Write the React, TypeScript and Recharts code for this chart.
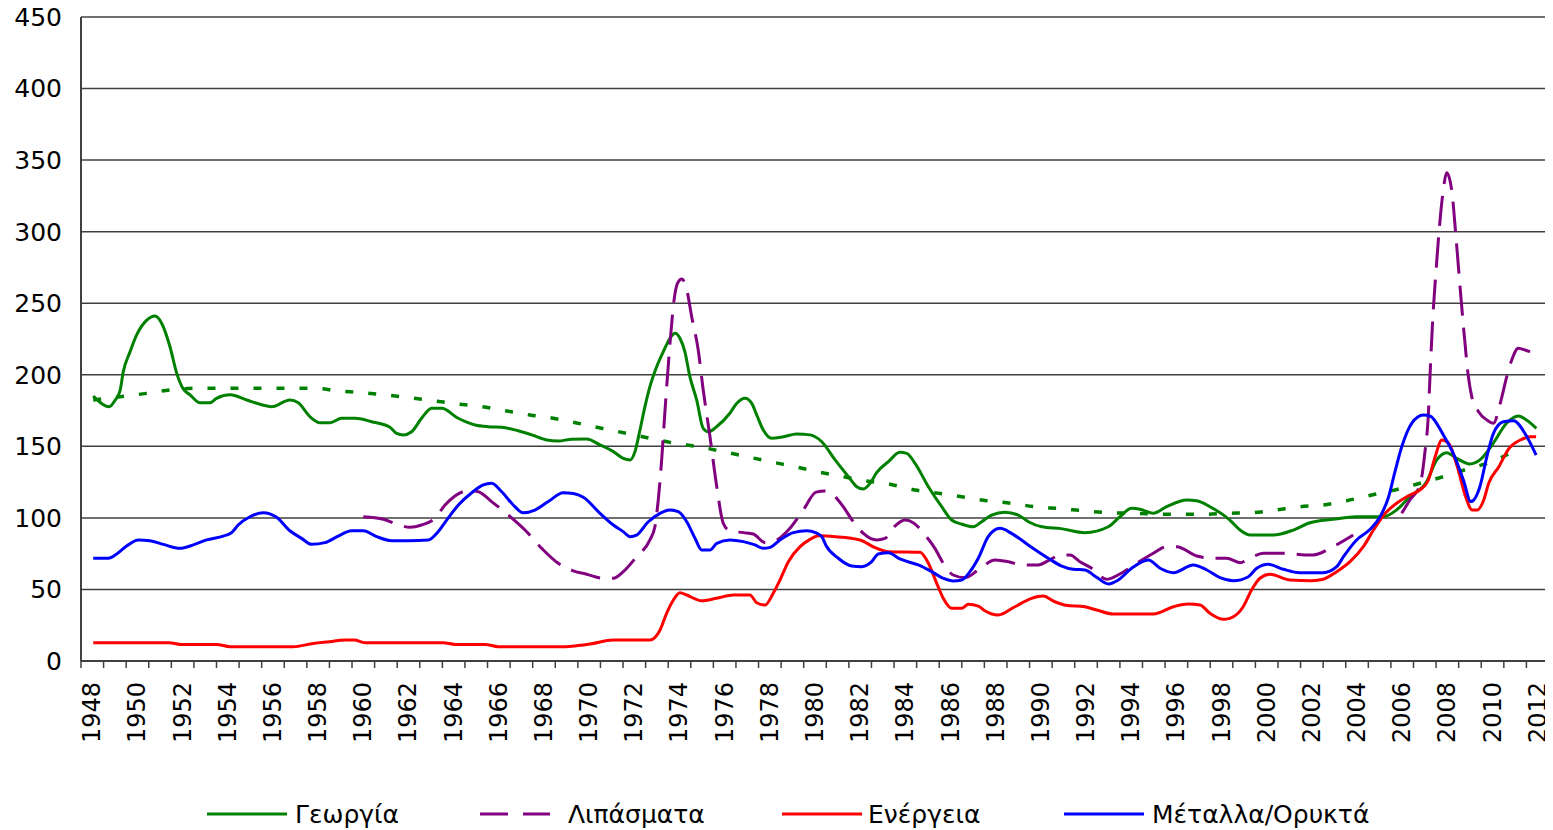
import React from 'react';
import { LineChart, Line, XAxis, YAxis, CartesianGrid, ReferenceLine } from 'recharts';

// [year, index value] pairs (null = gap in the series)
const agricultureSeries: [number, number][] = [
  [1948.54,185.2],[1949.25,177.7],[1949.5,182],[1949.73,189],[1949.87,202],[1950.17,216],[1950.47,228],[1950.9,238],[1951.28,241],[1951.57,236],[1951.94,219.6],[1952.24,201],[1952.53,190],[1952.83,186],[1953.27,180.5],[1953.71,180.5],[1954.0,183.5],[1954.6,186],[1955.34,182.4],[1956.0,179],[1956.44,177.7],[1957.25,182.4],[1957.62,180.5],[1958.14,170.7],[1958.58,166.5],[1959.03,166.5],[1959.54,169.6],[1960.13,169.6],[1960.87,167.2],[1961.68,163.3],[1961.98,159],[1962.27,158],[1962.64,160.2],[1963.08,169.6],[1963.53,176.6],[1963.97,176.6],[1964.7,169.6],[1965.45,164.9],[1966.03,163.7],[1966.63,163.3],[1967.36,160.9],[1967.96,158],[1968.62,154.4],[1969.13,153.7],[1969.73,155],[1970.39,155.1],[1970.98,151],[1971.57,146.3],[1972.01,141.6],[1972.31,140.5],[1972.53,146.3],[1972.75,161.4],[1972.97,177.7],[1973.19,191.7],[1973.49,205.6],[1973.78,216],[1974.08,225.5],[1974.3,229],[1974.52,225.5],[1974.74,216],[1974.96,198.7],[1975.26,182.4],[1975.55,162.6],[1975.78,160.2],[1976.14,163.7],[1976.73,173.1],[1977.03,180],[1977.4,183.6],[1977.7,180],[1977.92,171.9],[1978.21,161.4],[1978.58,155.6],[1979.1,156.7],[1979.69,158.6],[1980.28,158],[1980.8,153.2],[1981.39,140.5],[1981.98,128.8],[1982.35,121.8],[1982.64,120.2],[1982.94,124.2],[1983.23,131.6],[1983.75,139.3],[1984.26,145.8],[1984.56,145.1],[1984.93,138.1],[1985.52,121.8],[1986.11,107.8],[1986.55,98.5],[1986.99,95.7],[1987.51,93.8],[1987.88,97.3],[1988.32,102],[1988.91,103.9],[1989.5,102],[1989.95,97.3],[1990.54,93.8],[1991.4,92.5],[1992.45,89.7],[1993.49,93.8],[1994.0,100.8],[1994.52,106.7],[1994.89,106],[1995.48,103.2],[1996.07,107.8],[1996.96,112.5],[1997.4,112],[1997.99,107.8],[1998.87,98.5],[1999.32,91.5],[1999.76,88],[2000.79,88],[2001.68,91.5],[2002.42,96.6],[2003.44,99],[2004.48,100.8],[2005.66,100.8],[2006.25,105.5],[2006.84,114.8],[2007.58,125.3],[2008.03,140.5],[2008.47,145.6],[2008.91,141.6],[2009.5,137.7],[2009.94,140.5],[2010.53,152.1],[2011.12,166.1],[2011.64,171.2],[2012.0,168.4],[2012.44,162.6]
];

const agricultureTrend: [number, number][] = [
  [1948.54,182.4],[1949.73,184.7],[1950.9,187],[1951.94,189.4],[1953.12,190.6],[1958.3,190.6],[1959.3,188.9],[1960.4,187.5],[1961.46,185.9],[1962.57,184],[1963.6,181.9],[1964.64,179.6],[1965.74,177.7],[1966.77,174.9],[1967.88,171.9],[1968.91,169.6],[1969.9,166.5],[1971.05,162.6],[1972.16,159.1],[1973.19,155.6],[1974.3,152.1],[1975.33,149.7],[1976.44,146.3],[1977.47,142.8],[1978.51,139.3],[1979.61,135.8],[1980.6,132.3],[1981.75,128.8],[1982.79,125.8],[1983.82,123.5],[1984.93,119.5],[1985.96,117.2],[1986.99,114.8],[1988.1,112],[1989.2,110.2],[1990.24,107.8],[1991.3,106.5],[1992.38,105],[1993.49,103.6],[1994.52,103.2],[1995.55,102.7],[1996.66,102.5],[1997.69,102.5],[1998.73,103.2],[1999.83,103.6],[2000.86,105.5],[2001.97,107.8],[2003.0,109],[2004.04,112],[2005.15,116],[2006.18,119.5],[2007.29,124.2],[2008.32,128.8],[2009.36,134],[2010.46,139.3],[2011.57,147.4]
];

const fertilizerSeries: [number, number | null][] = [
  [1960.5,100.8],[1961.39,99],[1961.98,95.7],[1962.57,93.4],[1963.08,95],[1963.67,99.7],[1964.12,109],[1964.56,115.3],[1965.15,119],[1965.59,118.3],[1966.18,111.4],[1966.92,102],[1967.66,91.5],[1968.4,78.7],[1969.13,68.3],[1969.8,63],[1970.39,60.6],[1971.13,57.8],[1971.57,57.8],[1972.01,62.4],[1972.6,72.9],[1973.19,84.6],[1973.41,93.8],[1973.56,112.5],[1973.71,140.5],[1973.86,175.4],[1974.08,222],[1974.26,252.3],[1974.41,263.9],[1974.6,267],[1974.79,261.6],[1975.04,240.6],[1975.33,217.3],[1975.55,189.4],[1975.85,156.7],[1976.15,121.8],[1976.44,96.2],[1976.73,91],[1977.33,89.7],[1977.77,88.7],[1978.29,82.7],[1978.65,83.4],[1979.39,92.7],[1979.98,105.5],[1980.55,118],[1980.94,118.8],[1981.39,114.8],[1981.75,107.8],[1982.2,97.3],[1982.64,89.2],[1983.23,84.6],[1983.6,85.7],[1984.04,94.3],[1984.49,98.5],[1984.85,96.6],[1985.37,88],[1985.81,78.7],[1986.18,68.3],[1986.62,60.1],[1987.14,58.2],[1987.73,63.6],[1988.47,70.6],[1989.06,69.4],[1989.65,67.1],[1990.39,67.1],[1990.83,70.1],[1991.4,74.1],[1991.79,74.1],[1992.23,69.4],[1992.82,64.1],[1993.41,57.1],[1994.0,60.8],[1994.74,68.3],[1995.48,75.3],[1996.07,79.9],[1996.51,79.9],[1997.4,73.4],[1998.14,71.8],[1998.73,71.8],[1999.32,68.7],[1999.76,71.8],[2000.35,75.3],[2001.39,75.3],[2002.2,74.1],[2002.56,74.1],[2003.44,79.9],[2004.33,88],[2005.4,null],[2006.48,103.2],[2006.84,112.5],[2007.29,123],[2007.5,145.1],[2007.66,173.1],[2007.73,198.7],[2007.85,238.3],[2008.0,273.2],[2008.15,303.5],[2008.3,326.7],[2008.47,341.2],[2008.69,329.1],[2008.88,296.5],[2009.06,261.6],[2009.24,229],[2009.43,198.7],[2009.58,184.7],[2009.88,174.2],[2010.25,168.4],[2010.54,166.1],[2010.84,180],[2011.13,198.7],[2011.35,210.3],[2011.64,218.5],[2012.02,216.8],[2012.46,215]
];

const energySeries: [number, number][] = [
  [1948.54,12.8],[1951.9,12.8],[1952.4,11.6],[1954.0,11.6],[1954.6,10],[1957.4,10],[1958.29,12.3],[1959.0,13.5],[1959.69,14.7],[1960.1,14.7],[1960.57,12.8],[1964.04,12.8],[1964.56,11.6],[1965.89,11.6],[1966.48,10],[1969.43,10],[1970.0,10.8],[1970.54,11.9],[1971.57,14.7],[1973.19,14.7],[1973.64,21.7],[1973.93,33.3],[1974.23,42.6],[1974.52,47.7],[1974.82,46.1],[1975.48,42.1],[1976.14,43.8],[1976.88,46.1],[1977.62,46.1],[1977.92,40.7],[1978.29,39.1],[1978.65,47.3],[1978.95,56.6],[1979.32,69.4],[1979.84,79.9],[1980.28,85],[1980.65,87.5],[1981.39,86.9],[1982.49,84.6],[1983.16,79.2],[1983.75,76.4],[1985.15,76],[1985.52,68.3],[1985.89,54.3],[1986.18,43.8],[1986.55,36.8],[1986.99,36.8],[1987.29,39.6],[1987.73,38.4],[1988.02,35.1],[1988.61,32.1],[1989.35,37.9],[1990.09,43.8],[1990.6,45.4],[1991.12,41.4],[1991.6,39],[1992.45,37.9],[1992.97,35.6],[1993.71,32.8],[1995.48,32.8],[1996.37,37.9],[1997.03,39.8],[1997.55,39.1],[1997.99,33.3],[1998.58,29.1],[1998.87,29.8],[1999.46,37.9],[1999.83,49.6],[2000.2,57.8],[2000.64,60.6],[2001.53,56.6],[2002.5,56.1],[2003.0,57.1],[2003.6,62.4],[2004.19,69.4],[2004.78,79.9],[2005.23,91.5],[2005.75,103.2],[2006.25,110.2],[2006.84,116],[2007.29,119.5],[2007.66,126.5],[2007.96,142.8],[2008.26,154.4],[2008.56,152.1],[2008.94,135.8],[2009.31,114.8],[2009.6,105.5],[2009.82,105.5],[2010.11,112.5],[2010.33,124.2],[2010.78,135.8],[2011.23,148.6],[2011.73,154.4],[2012.17,156.7],[2012.43,156.7]
];

const metalsSeries: [number, number][] = [
  [1948.54,71.8],[1949.21,71.8],[1949.58,74.8],[1950.02,80.4],[1950.54,84.6],[1951.05,84.1],[1951.64,81.5],[1952.38,78.7],[1952.97,81.1],[1953.56,84.6],[1954.3,87.3],[1954.67,89.7],[1954.96,95],[1955.48,100.8],[1956.07,103.6],[1956.66,100.4],[1957.25,91],[1957.77,85.7],[1958.21,81.5],[1958.8,82.7],[1959.39,87.3],[1959.98,91],[1960.5,91],[1961.09,86.9],[1961.76,84.1],[1962.49,84.1],[1963.38,84.6],[1963.75,89.2],[1964.19,98.5],[1964.71,109],[1965.3,117.6],[1965.81,123],[1966.18,124.2],[1966.63,118.3],[1967.14,109],[1967.58,103.6],[1968.1,105.5],[1968.69,111.4],[1969.35,117.6],[1969.8,117],[1970.24,114.4],[1970.98,103.2],[1971.57,95],[1972.01,90.4],[1972.31,86.9],[1972.6,88],[1973.12,97.3],[1973.64,103.2],[1974.08,105.5],[1974.45,104.3],[1974.82,97.3],[1975.19,85.7],[1975.48,77.6],[1975.85,77.6],[1976.15,82.2],[1976.73,84.6],[1977.33,83.4],[1977.84,81.1],[1978.21,78.7],[1978.51,79.4],[1978.95,84.6],[1979.54,89.7],[1980.13,91],[1980.55,89.5],[1980.8,86.9],[1981.0,80.4],[1981.53,71.8],[1982.12,66.4],[1982.57,65.9],[1983.01,69.4],[1983.3,74.8],[1983.75,75.7],[1984.26,71.3],[1985.07,67.1],[1985.59,63.1],[1986.18,57.8],[1986.62,55.9],[1986.99,56.6],[1987.36,62.4],[1987.73,71.8],[1988.17,86.9],[1988.69,92.7],[1989.2,89.2],[1989.94,81.1],[1990.83,71.8],[1991.4,66.5],[1991.94,64.1],[1992.45,63.6],[1992.97,58.5],[1993.49,53.8],[1993.93,56.6],[1994.52,64.8],[1995.26,70.6],[1995.78,64.8],[1996.37,61.7],[1997.25,67.1],[1997.85,63.6],[1998.43,58.2],[1999.02,56.1],[1999.69,58.9],[2000.06,64.8],[2000.57,67.6],[2001.24,64.1],[2001.97,61.7],[2003.0,61.7],[2003.6,65.9],[2003.9,72.9],[2004.48,84.6],[2005.08,92],[2005.52,100.8],[2005.9,114.8],[2006.18,132.3],[2006.48,149.7],[2006.92,166.1],[2007.44,171.9],[2007.73,171.2],[2008.32,158],[2008.76,145.1],[2009.21,126.5],[2009.54,111.4],[2009.94,121.8],[2010.25,142.8],[2010.54,159.1],[2010.98,167.2],[2011.43,167.9],[2012.02,156.7],[2012.43,143.9]
];

const yTicks = [0, 50, 100, 150, 200, 250, 300, 350, 400, 450];
const firstYear = 1948;
const lastYear = 2012;
const legendLabels = ['Γεωργία', 'Λιπάσματα', 'Ενέργεια', 'Μέταλλα/Ορυκτά'];

const toRows = (s: [number, number | null][]) => s.map(([t, v]) => ({ t, v }));

const xTicks: number[] = [];
for (let i = 0; i <= (lastYear + 1 - firstYear) * 2; i++) xTicks.push(firstYear + i * 0.5);

const AXIS = '#404040';
const FONT = 'DejaVu Sans, Verdana, sans-serif';

const XTick = (props: any) => {
  const { x, y, payload } = props;
  const v: number = payload.value;
  if (Number.isInteger(v)) {
    return <line x1={x} x2={x} y1={y} y2={y + 7} stroke={AXIS} strokeWidth={1.5} />;
  }
  const yr = Math.floor(v);
  if ((yr - firstYear) % 2 !== 0) return <g />;
  const ty = y + 21;
  return (
    <text x={x} y={ty} transform={`rotate(-90 ${x} ${ty})`} textAnchor="end" dominantBaseline="central"
      fontSize={24} fontFamily={FONT} fill="#000">{yr}</text>
  );
};

export default function App() {
  return (
    <div style={{ position: 'relative', width: 1545, height: 830, marginTop: -8 }}>
      <LineChart width={1545} height={768} margin={{ top: 17, right: 4, bottom: 0, left: 0 }}>
        <CartesianGrid horizontal vertical={false} stroke={AXIS} strokeWidth={1.5} />
        <XAxis dataKey="t" type="number" domain={[firstYear, lastYear + 1]} ticks={xTicks} interval={0}
          allowDuplicatedCategory={false} tick={<XTick />} tickLine={false} tickSize={0} tickMargin={0}
          height={107} axisLine={{ stroke: AXIS, strokeWidth: 2 }} />
        <YAxis type="number" domain={[0, 450]} ticks={yTicks} interval={0} width={73} tickLine={false}
          tickSize={0} tickMargin={19} axisLine={{ stroke: AXIS, strokeWidth: 2 }}
          tick={{ fontSize: 25, fill: '#000', fontFamily: FONT }} />
        <ReferenceLine x={lastYear + 1} stroke={AXIS} strokeWidth={2} />
        <Line data={toRows(agricultureSeries)} dataKey="v" type="monotone" stroke="#008000" strokeWidth={3}
          dot={false} activeDot={false} isAnimationActive={false} />
        <Line data={toRows(agricultureTrend)} dataKey="v" type="monotone" stroke="#008000" strokeWidth={3.5}
          strokeDasharray="8 15" dot={false} activeDot={false} isAnimationActive={false} />
        <Line data={toRows(fertilizerSeries)} dataKey="v" type="monotone" stroke="#800080" strokeWidth={3}
          strokeDasharray="30 12" connectNulls={false} dot={false} activeDot={false} isAnimationActive={false} />
        <Line data={toRows(energySeries)} dataKey="v" type="monotone" stroke="#FF0000" strokeWidth={3}
          dot={false} activeDot={false} isAnimationActive={false} />
        <Line data={toRows(metalsSeries)} dataKey="v" type="monotone" stroke="#0000FF" strokeWidth={3}
          dot={false} activeDot={false} isAnimationActive={false} />
      </LineChart>
      <svg width={1545} height={30} style={{ position: 'absolute', left: 0, top: 799 }}>
        <line x1={199} x2={279} y1={15} y2={15} stroke="#008000" strokeWidth={3} />
        <text x={287} y={15} dominantBaseline="central" fontSize={25} fontFamily={FONT} fill="#000">{legendLabels[0]}</text>
        <line x1={472} x2={500} y1={15} y2={15} stroke="#800080" strokeWidth={3} />
        <line x1={515} x2={542} y1={15} y2={15} stroke="#800080" strokeWidth={3} />
        <text x={560} y={15} dominantBaseline="central" fontSize={25} fontFamily={FONT} fill="#000">{legendLabels[1]}</text>
        <line x1={774} x2={854} y1={15} y2={15} stroke="#FF0000" strokeWidth={3} />
        <text x={860} y={15} dominantBaseline="central" fontSize={25} fontFamily={FONT} fill="#000">{legendLabels[2]}</text>
        <line x1={1056} x2={1136} y1={15} y2={15} stroke="#0000FF" strokeWidth={3} />
        <text x={1144} y={15} dominantBaseline="central" fontSize={25} fontFamily={FONT} fill="#000">{legendLabels[3]}</text>
      </svg>
    </div>
  );
}
